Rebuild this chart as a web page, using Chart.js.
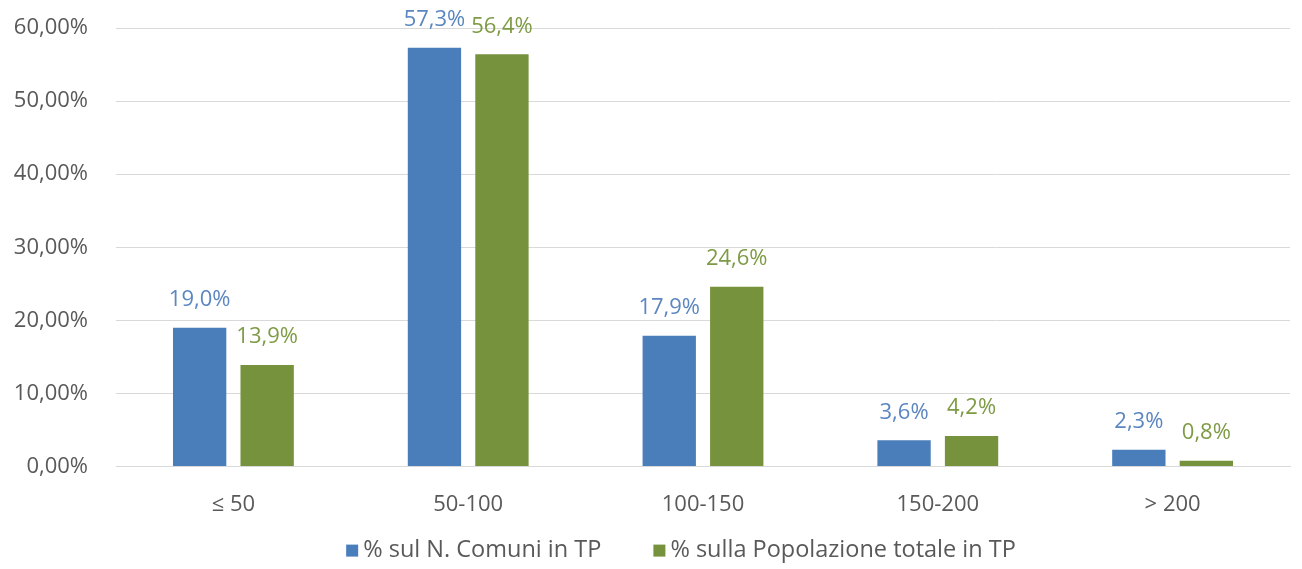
<!DOCTYPE html>
<html>
<head>
<meta charset="utf-8">
<script src="https://cdn.jsdelivr.net/npm/chart.js@4.4.1/dist/chart.umd.min.js"></script>
<style>
  html, body { margin: 0; padding: 0; background: #ffffff; }
  #wrap { width: 1302px; height: 569px; }
</style>
</head>
<body>
<div id="wrap"><canvas id="c" width="1302" height="569"></canvas></div>
<script>
const categories = ['≤ 50', '50-100', '100-150', '150-200', '> 200'];
const comuniPct = [19.0, 57.3, 17.9, 3.6, 2.3];
const popolazionePct = [13.9, 56.4, 24.6, 4.2, 0.8];
const seriesNames = ['% sul N. Comuni in TP', '% sulla Popolazione totale in TP'];
const yTicks = [0, 10, 20, 30, 40, 50, 60];

const FONT = '"Open Sans", "Noto Sans", sans-serif';
const FS = 22;
const LEGEND_FS = 23.5;
const fmt = (v, d) => v.toFixed(d).replace('.', ',');

const labelPlugin = {
  id: 'barLabels',
  afterDatasetsDraw(chart) {
    const ctx = chart.ctx;
    ctx.save();
    ctx.font = FS + 'px ' + FONT;
    ctx.textAlign = 'center';
    ctx.textBaseline = 'middle';
    chart.data.datasets.forEach((ds, i) => {
      const meta = chart.getDatasetMeta(i);
      ctx.fillStyle = ds.labelColor;
      meta.data.forEach((bar, j) => {
        ctx.fillText(fmt(ds.data[j], 1) + '%', bar.x, bar.y - 28);
      });
    });
    ctx.restore();
  }
};

const legendPlugin = {
  id: 'bottomLegend',
  afterDraw(chart) {
    const ctx = chart.ctx;
    ctx.save();
    ctx.font = LEGEND_FS + 'px ' + FONT;
    ctx.textBaseline = 'middle';
    ctx.textAlign = 'left';
    const box = 12, gap = 5, itemGap = 52;
    const items = chart.data.datasets.map(ds => ({ text: ds.label, color: ds.backgroundColor, w: ctx.measureText(ds.label).width }));
    const total = items.reduce((s, it) => s + box + gap + it.w, 0) + itemGap * (items.length - 1);
    const center = (chart.chartArea.left + chart.chartArea.right) / 2 - 22;
    const y = chart.chartArea.bottom + 84;
    let x = center - total / 2;
    items.forEach(it => {
      ctx.fillStyle = it.color;
      ctx.fillRect(x, y - box / 2, box, box);
      x += box + gap;
      ctx.fillStyle = '#595959';
      ctx.fillText(it.text, x, y);
      x += it.w + itemGap;
    });
    ctx.restore();
  }
};

new Chart(document.getElementById('c'), {
  type: 'bar',
  data: {
    labels: categories,
    datasets: [
      { label: seriesNames[0], data: comuniPct, backgroundColor: '#4A7EBB', labelColor: '#5B86C0',
        categoryPercentage: 0.575, barPercentage: 0.79 },
      { label: seriesNames[1], data: popolazionePct, backgroundColor: '#76923C', labelColor: '#7E9B45',
        categoryPercentage: 0.575, barPercentage: 0.79 }
    ]
  },
  options: {
    responsive: false,
    animation: false,
    layout: { padding: { top: 28, right: 12, left: 0, bottom: 34 } },
    plugins: {
      legend: { display: false },
      tooltip: { enabled: false }
    },
    scales: {
      x: {
        grid: { display: false },
        border: { color: '#D9D9D9' },
        ticks: { color: '#595959', font: { family: FONT, size: FS }, padding: 17 }
      },
      y: {
        min: 0, max: 60,
        afterBuildTicks(axis) { axis.ticks = yTicks.map(v => ({ value: v })); },
        afterFit(axis) { axis.width = 116; axis.paddingTop = 0; axis.paddingBottom = 0; },
        grid: { color: '#D9D9D9', drawTicks: false },
        border: { display: false },
        ticks: {
          color: '#595959', font: { family: FONT, size: FS }, padding: 28,
          callback: v => fmt(v, 2) + '%'
        }
      }
    }
  },
  plugins: [labelPlugin, legendPlugin]
});
</script>
</body>
</html>
